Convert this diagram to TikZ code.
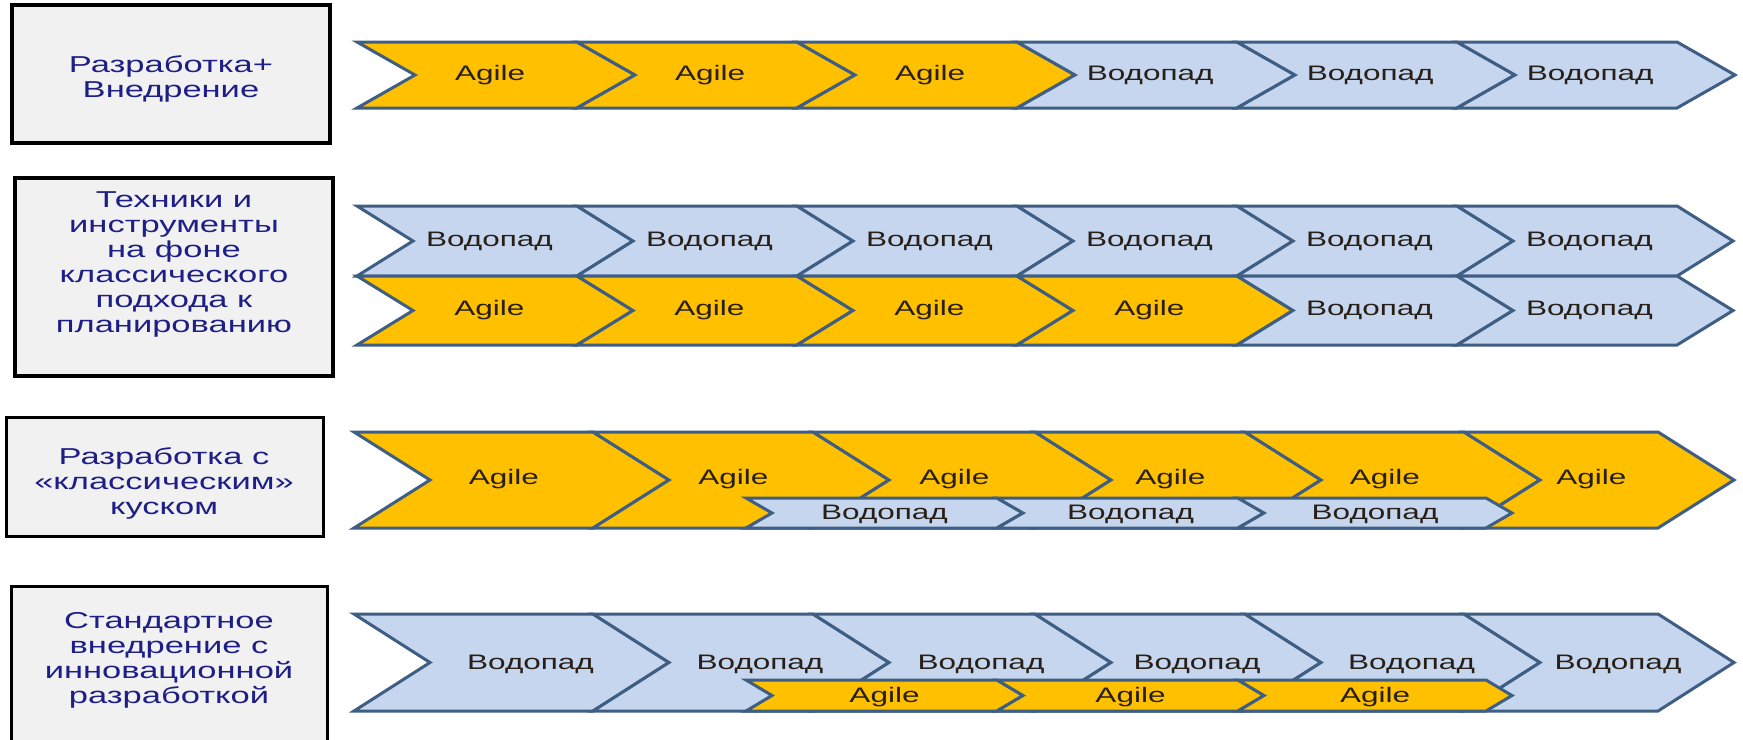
\documentclass[tikz,border=0pt]{standalone}
\usepackage{fontspec}
\setmainfont{Liberation Sans}[FakeStretch=1.5]

\definecolor{agilefill}{RGB}{255,192,0}
\definecolor{wffill}{RGB}{198,214,238}
\definecolor{chevline}{RGB}{62,94,132}
\definecolor{boxfill}{RGB}{241,241,241}
\definecolor{boxtext}{RGB}{30,30,135}
\definecolor{chevtext}{RGB}{40,32,24}

% fill, left x, right x, top y, bottom y, depth
\newcommand{\chevshape}[6]{%
  \draw[chevline, line width=1.5pt, line join=miter, fill=#1]
    (#2,#4) -- (#3,#4) -- ({#3+#6},{(#4+#5)/2}) -- (#3,#5) -- (#2,#5)
    -- ({#2+#6},{(#4+#5)/2}) -- cycle;}

\begin{document}
\begin{tikzpicture}[x=0.5pt,y=-0.5pt,
    chevlabel/.style={text=chevtext, font=\fontsize{10.5}{12}\selectfont, inner sep=0pt},
    boxlabel/.style={text=boxtext, font=\fontsize{11.5}{12.5}\selectfont, align=center, inner sep=0pt},
    boxframe/.style={draw=black, fill=boxfill}]
  \clip (0,0) rectangle (1743,739);
  \fill[white] (0,0) rectangle (1743,739);

  % row titles
  \draw[boxframe, line width=2pt] (12,5) rectangle (330,143);
  \node[boxlabel] (t1) at (171,79) {Разработка+\\Внедрение};
  \draw[boxframe, line width=2pt] (15,178) rectangle (333,376);
  \node[boxlabel] (t2) at (174,264) {Техники и\\инструменты\\на фоне\\классического\\подхода к\\планированию};
  \draw[boxframe, line width=1.5pt] (6,417) rectangle (323,536);
  \node[boxlabel] (t3) at (164,483) {Разработка с\\«классическим»\\куском};
  \draw[boxframe, line width=1.5pt] (11,586) rectangle (327,790);
  \node[boxlabel] (t4) at (169,660) {Стандартное\\внедрение с\\инновационной\\разработкой};

  % row 1
  \foreach \l/\r/\c/\t [count=\i] in {357/577/agilefill/Agile, 577/797/agilefill/Agile,
      797/1017/agilefill/Agile, 1017/1237/wffill/Водопад, 1237/1457/wffill/Водопад,
      1457/1677/wffill/Водопад} {
    \chevshape{\c}{\l}{\r}{42}{108}{58}
    \node[chevlabel] (r1c\i) at ({(\l+\r)/2+0.4*58},75) {\t};
  }

  % row 2
  \foreach \l/\r [count=\i] in {357/577, 577/797, 797/1017, 1017/1237, 1237/1457, 1457/1677} {
    \chevshape{wffill}{\l}{\r}{206}{276}{56}
    \node[chevlabel] (r2w\i) at ({(\l+\r)/2+0.4*56},241) {Водопад};
  }
  \foreach \l/\r/\c/\t [count=\i] in {357/577/agilefill/Agile, 577/797/agilefill/Agile,
      797/1017/agilefill/Agile, 1017/1237/agilefill/Agile, 1237/1457/wffill/Водопад,
      1457/1677/wffill/Водопад} {
    \chevshape{\c}{\l}{\r}{276}{345}{56}
    \node[chevlabel] (r2a\i) at ({(\l+\r)/2+0.4*56},310) {\t};
  }

  % row 3
  \foreach \l/\r [count=\i] in {354/593, 593/813, 813/1035, 1035/1245, 1245/1464, 1464/1658} {
    \chevshape{agilefill}{\l}{\r}{432}{528}{76}
    \node[chevlabel] (r3a\i) at ({(\l+\r)/2+0.4*76},479) {Agile};
  }
  \foreach \l/\r [count=\i] in {746/997, 997/1238, 1238/1486} {
    \chevshape{wffill}{\l}{\r}{498}{528}{26}
    \node[chevlabel] (r3w\i) at ({(\l+\r+26)/2},514) {Водопад};
  }

  % row 4
  \foreach \l/\r [count=\i] in {354/593, 593/813, 813/1035, 1035/1245, 1245/1464, 1464/1658} {
    \chevshape{wffill}{\l}{\r}{614}{711}{76}
    \node[chevlabel] (r4w\i) at ({(\l+\r)/2+0.75*76},664) {Водопад};
  }
  \foreach \l/\r [count=\i] in {746/997, 997/1238, 1238/1486} {
    \chevshape{agilefill}{\l}{\r}{680}{711}{26}
    \node[chevlabel] (r4a\i) at ({(\l+\r+26)/2},697) {Agile};
  }
\end{tikzpicture}
\end{document}
